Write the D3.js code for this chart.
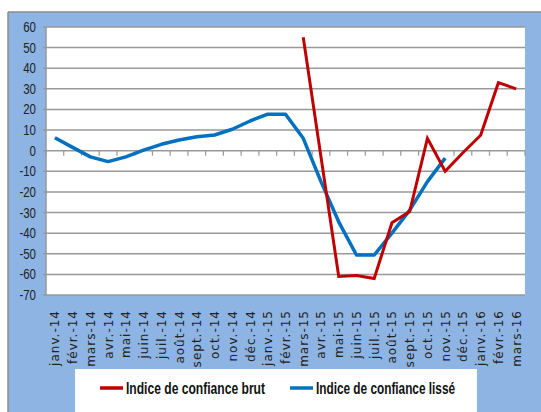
<!DOCTYPE html>
<html>
<head>
	<meta charset="utf-8">
	<title>Indice de confiance</title>
	<script src="https://d3js.org/d3.v7.min.js"></script>
	<style>
		body { margin: 0; background: #fff; }
	</style>
</head>
<body>
	<svg id="chart" width="541" height="412"></svg>

	<script type="text/javascript">
		// months shown on the x axis
		var months = ["janv.-14", "févr.-14", "mars-14", "avr.-14", "mai-14", "juin-14", "juil.-14", "août-14",
			"sept.-14", "oct.-14", "nov.-14", "déc.-14", "janv.-15", "févr.-15", "mars-15", "avr.-15", "mai-15",
			"juin-15", "juil.-15", "août-15", "sept.-15", "oct.-15", "nov.-15", "déc.-15", "janv.-16", "févr.-16", "mars-16"]

		// raw index (starts in march 2015)
		var brut = [null, null, null, null, null, null, null, null, null, null, null, null, null, null,
			55, -3, -61, -60.5, -62, -35, -29.5, 6, -10, -1, 7.5, 33, 30]

		// smoothed index (ends in november 2015)
		var lisse = [6.3, 1.6, -3, -5.3, -3, 0.3, 3.1, 5.2, 6.8, 7.6, 10.4, 14.4, 17.7, 17.7,
			6, -15, -34.5, -50.6, -50.6, -40, -28.8, -15, -3.6, null, null, null, null]

		var yTicks = [60, 50, 40, 30, 20, 10, 0, -10, -20, -30, -40, -50, -60, -70]

		var svg = d3.select("#chart")

		// chart area (blue) with grey border on top and left
		svg.append("rect").attr("x", 8).attr("y", 12).attr("width", 541).attr("height", 412)
			.attr("fill", "#8db4e2")
		svg.append("line").attr("x1", 8).attr("x2", 541).attr("y1", 12).attr("y2", 12)
			.attr("stroke", "#8c8c8c").attr("stroke-width", 1.5)
		svg.append("line").attr("x1", 8).attr("x2", 8).attr("y1", 12).attr("y2", 412)
			.attr("stroke", "#8c8c8c").attr("stroke-width", 1.5)

		var x = d3.scaleBand().domain(months).range([46, 525])
		var y = d3.scaleLinear().domain([-70, 60]).range([295, 27])

		// plot area
		svg.append("rect").attr("x", 46).attr("y", 27).attr("width", 479).attr("height", 268)
			.attr("fill", "#fff")

		// gridlines
		svg.selectAll(".grid").data(yTicks).enter().append("line")
			.attr("class", "grid")
			.attr("x1", 43).attr("x2", 525)
			.attr("y1", d => y(d)).attr("y2", d => y(d))
			.attr("stroke", "#999").attr("stroke-width", 1.5)

		// y axis line
		svg.append("line").attr("x1", 46).attr("x2", 46).attr("y1", 27).attr("y2", 295)
			.attr("stroke", "#999").attr("stroke-width", 1.5)

		// narrow-looking y labels (squeezed horizontally)
		svg.selectAll(".ylab").data(yTicks).enter().append("text")
			.attr("class", "ylab")
			.attr("transform", d => "translate(36," + (y(d) + 5) + ") scale(0.82,1)")
			.attr("text-anchor", "end")
			.attr("font-family", "Liberation Sans, Arial, sans-serif")
			.attr("font-size", 14)
			.attr("fill", "#222")
			.text(d => d)

		// tick marks at category boundaries on the zero line
		var bounds = months.map(m => x(m)).concat([x.range()[1]])
		svg.selectAll(".xtick").data(bounds).enter().append("line")
			.attr("class", "xtick")
			.attr("x1", d => d).attr("x2", d => d)
			.attr("y1", y(0)).attr("y2", y(0) + 5)
			.attr("stroke", "#999").attr("stroke-width", 1.2)

		// rotated month labels
		svg.selectAll(".xlab").data(months).enter().append("text")
			.attr("class", "xlab")
			.attr("transform", d => "translate(" + (x(d) + x.bandwidth() / 2 + 4.5) + ",310) rotate(-90)")
			.attr("text-anchor", "end")
			.attr("font-family", "DejaVu Sans, sans-serif")
			.attr("font-size", 12)
			.attr("letter-spacing", 1)
			.attr("fill", "#222")
			.text(d => d)

		var line = d3.line()
			.defined(d => d.v !== null)
			.x(d => x(d.m) + x.bandwidth() / 2)
			.y(d => y(d.v))

		svg.append("path")
			.datum(months.map((m, i) => ({m: m, v: lisse[i]})))
			.attr("d", line)
			.attr("fill", "none")
			.attr("stroke", "#0070c0")
			.attr("stroke-width", 3.5)
			.attr("stroke-linejoin", "round")

		svg.append("path")
			.datum(months.map((m, i) => ({m: m, v: brut[i]})))
			.attr("d", line)
			.attr("fill", "none")
			.attr("stroke", "#c00000")
			.attr("stroke-width", 3)

		// legend
		svg.append("rect").attr("x", 75).attr("y", 369).attr("width", 402).attr("height", 43)
			.attr("fill", "#fff")

		var legend = [{name: "Indice de confiance brut", color: "#c00000", x: 100},
			{name: "Indice de confiance lissé", color: "#0070c0", x: 290}]

		var items = svg.selectAll(".leg").data(legend).enter().append("g")
			.attr("class", "leg")
		items.append("line")
			.attr("x1", d => d.x).attr("x2", d => d.x + 23)
			.attr("y1", 388).attr("y2", 388)
			.attr("stroke", d => d.color).attr("stroke-width", 3.5)
		items.append("text")
			.attr("x", d => d.x + 26).attr("y", 394)
			.attr("font-family", "Liberation Sans, Arial, sans-serif")
			.attr("font-weight", "bold")
			.attr("font-size", 16)
			.attr("textLength", 139)
			.attr("lengthAdjust", "spacingAndGlyphs")
			.attr("fill", "#111")
			.text(d => d.name)
	</script>
</body>
</html>
